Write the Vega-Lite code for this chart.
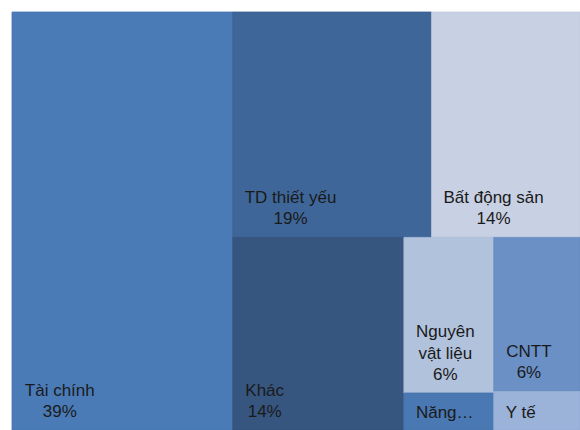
{
  "$schema": "https://vega.github.io/schema/vega-lite/v6.json",
  "width": 568,
  "height": 418,
  "autosize": {"type": "none"},
  "padding": {"left": 12, "top": 12, "right": 0, "bottom": 0},
  "background": "white",
  "config": {"view": {"stroke": null}},
  "data": {
    "values": [
      {"sector": "Tài chính", "value": 38.9, "side": "L", "block": "A", "col": "A", "order": 1},
      {"sector": "TD thiết yếu", "value": 18.9, "side": "R", "block": "B", "col": "B1", "order": 2},
      {"sector": "Bất động sản", "value": 14.1, "side": "R", "block": "B", "col": "B2", "order": 3},
      {"sector": "Khác", "value": 13.9, "side": "R", "block": "C", "col": "C1", "order": 4},
      {"sector": "Nguyên vật liệu", "value": 5.9, "side": "R", "block": "C", "col": "C2", "order": 5},
      {"sector": "Năng lượng", "value": 1.4, "side": "R", "block": "C", "col": "C2", "order": 6},
      {"sector": "CNTT", "value": 5.6, "side": "R", "block": "C", "col": "C3", "order": 7},
      {"sector": "Y tế", "value": 1.4, "side": "R", "block": "C", "col": "C3", "order": 8}
    ]
  },
  "transform": [
    {"joinaggregate": [{"op": "sum", "field": "value", "as": "total"}]},
    {"joinaggregate": [{"op": "sum", "field": "value", "as": "sideSum"}], "groupby": ["side"]},
    {"joinaggregate": [{"op": "sum", "field": "value", "as": "blockSum"}], "groupby": ["block"]},
    {"joinaggregate": [{"op": "sum", "field": "value", "as": "colSum"}], "groupby": ["col"]},
    {"stack": "value", "groupby": [], "sort": [{"field": "order"}], "as": ["g0", "g1"]},
    {"joinaggregate": [{"op": "min", "field": "g0", "as": "sideStart"}], "groupby": ["side"]},
    {"stack": "value", "groupby": ["side"], "sort": [{"field": "order"}], "as": ["h0", "h1"]},
    {"joinaggregate": [{"op": "min", "field": "h0", "as": "blockStart"}], "groupby": ["block"]},
    {"stack": "value", "groupby": ["block"], "sort": [{"field": "order"}], "as": ["s0", "s1"]},
    {"joinaggregate": [{"op": "min", "field": "s0", "as": "colStart"}], "groupby": ["col"]},
    {"stack": "value", "groupby": ["col"], "sort": [{"field": "order"}], "as": ["t0", "t1"]},
    {"calculate": "datum.sideStart / datum.total", "as": "bx0"},
    {"calculate": "(datum.sideStart + datum.sideSum) / datum.total", "as": "bx1"},
    {"calculate": "datum.blockStart / datum.sideSum", "as": "by0"},
    {"calculate": "(datum.blockStart + datum.blockSum) / datum.sideSum", "as": "by1"},
    {"calculate": "datum.bx0 + (datum.bx1 - datum.bx0) * datum.colStart / datum.blockSum", "as": "x0"},
    {"calculate": "datum.bx0 + (datum.bx1 - datum.bx0) * (datum.colStart + datum.colSum) / datum.blockSum", "as": "x1"},
    {"calculate": "datum.by0 + (datum.by1 - datum.by0) * datum.t0 / datum.colSum", "as": "y0"},
    {"calculate": "datum.by0 + (datum.by1 - datum.by0) * datum.t1 / datum.colSum", "as": "y1"},
    {"calculate": "format(datum.value / datum.total, '.0%')", "as": "pct"},
    {"calculate": "(datum.x1 - datum.x0) * 568", "as": "wpx"},
    {"calculate": "17*(0.556*length(datum.sector) - 0.306*length(replace(datum.sector, regexp('[^ iíìỉĩịljtfr]','g'), '')) + 0.124*length(replace(datum.sector, regexp('[^A-ZĐ]','g'), '')) + 0.333*length(replace(datum.sector, regexp('[^%]','g'), '')))", "as": "estName"},
    {"calculate": "datum.value >= 3 && datum.estName > datum.wpx - 24 && indexof(datum.sector, ' ') > 0", "as": "wrap"},
    {"calculate": "datum.wrap ? substring(datum.sector, 0, indexof(datum.sector, ' ')) : datum.sector", "as": "l0"},
    {"calculate": "datum.wrap ? substring(datum.sector, indexof(datum.sector, ' ') + 1) : ''", "as": "l1"},
    {"calculate": "17*(0.556*length(datum.l0) - 0.306*length(replace(datum.l0, regexp('[^ iíìỉĩịljtfr]','g'), '')) + 0.124*length(replace(datum.l0, regexp('[^A-ZĐ]','g'), '')) + 0.333*length(replace(datum.l0, regexp('[^%]','g'), '')))", "as": "e0"},
    {"calculate": "17*(0.556*length(datum.l1) - 0.306*length(replace(datum.l1, regexp('[^ iíìỉĩịljtfr]','g'), '')) + 0.124*length(replace(datum.l1, regexp('[^A-ZĐ]','g'), '')) + 0.333*length(replace(datum.l1, regexp('[^%]','g'), '')))", "as": "e1"},
    {"calculate": "17*(0.556*length(datum.pct) - 0.306*length(replace(datum.pct, regexp('[^ iíìỉĩịljtfr]','g'), '')) + 0.124*length(replace(datum.pct, regexp('[^A-ZĐ]','g'), '')) + 0.333*length(replace(datum.pct, regexp('[^%]','g'), '')))", "as": "e2"},
    {"calculate": "datum.wrap ? datum.l0 + '\\n' + datum.l1 + '\\n' + datum.pct : datum.l0 + '\\n' + datum.pct", "as": "label"},
    {"calculate": "datum.x0 + (12 + max(datum.e0, datum.e1, datum.e2) / 2) / 568", "as": "xt"},
    {"calculate": "datum.y1 - (datum.wrap ? 2 : 1) * 21.5 / 418", "as": "yt"}
  ],
  "layer": [
    {
      "mark": {"type": "rect", "strokeWidth": 0.8},
      "encoding": {
        "x": {"field": "x0", "type": "quantitative", "scale": {"domain": [0, 1], "nice": false, "zero": false}, "axis": null},
        "x2": {"field": "x1"},
        "y": {"field": "y0", "type": "quantitative", "scale": {"domain": [0, 1], "nice": false, "zero": false, "reverse": true}, "axis": null},
        "y2": {"field": "y1"},
        "color": {
          "field": "sector",
          "type": "nominal",
          "scale": {
            "domain": ["Tài chính", "TD thiết yếu", "Bất động sản", "Khác", "Nguyên vật liệu", "Năng lượng", "CNTT", "Y tế"],
            "range": ["#4a7bb7", "#3e6699", "#c8d0e3", "#36557f", "#b1c2dd", "#4a78b2", "#6a90c6", "#9bb2d9"]
          },
          "legend": null
        },
        "stroke": {
          "field": "sector",
          "type": "nominal",
          "scale": {
            "domain": ["Tài chính", "TD thiết yếu", "Bất động sản", "Khác", "Nguyên vật liệu", "Năng lượng", "CNTT", "Y tế"],
            "range": ["#4576b0", "#3a6192", "#c0c9dc", "#33507a", "#aabbd6", "#4673ac", "#658bc0", "#95add3"]
          },
          "legend": null
        }
      }
    },
    {
      "transform": [{"filter": "datum.value >= 3"}],
      "mark": {"type": "text", "align": "center", "baseline": "bottom", "dy": -9, "fontSize": 17, "font": "Liberation Sans", "lineHeight": 21.5, "lineBreak": "\n", "color": "#1a1a1a"},
      "encoding": {
        "x": {"field": "xt", "type": "quantitative", "scale": {"domain": [0, 1], "nice": false, "zero": false}, "axis": null},
        "y": {"field": "yt", "type": "quantitative", "scale": {"domain": [0, 1], "nice": false, "zero": false, "reverse": true}, "axis": null},
        "text": {"field": "label", "type": "nominal"}
      }
    },
    {
      "transform": [{"filter": "datum.value < 3"}],
      "mark": {"type": "text", "align": "left", "baseline": "bottom", "dx": 12, "dy": -8, "fontSize": 17, "font": "Liberation Sans", "limit": 60, "color": "#1a1a1a"},
      "encoding": {
        "x": {"field": "x0", "type": "quantitative", "scale": {"domain": [0, 1], "nice": false, "zero": false}, "axis": null},
        "y": {"field": "y1", "type": "quantitative", "scale": {"domain": [0, 1], "nice": false, "zero": false, "reverse": true}, "axis": null},
        "text": {"field": "sector", "type": "nominal"}
      }
    }
  ]
}
